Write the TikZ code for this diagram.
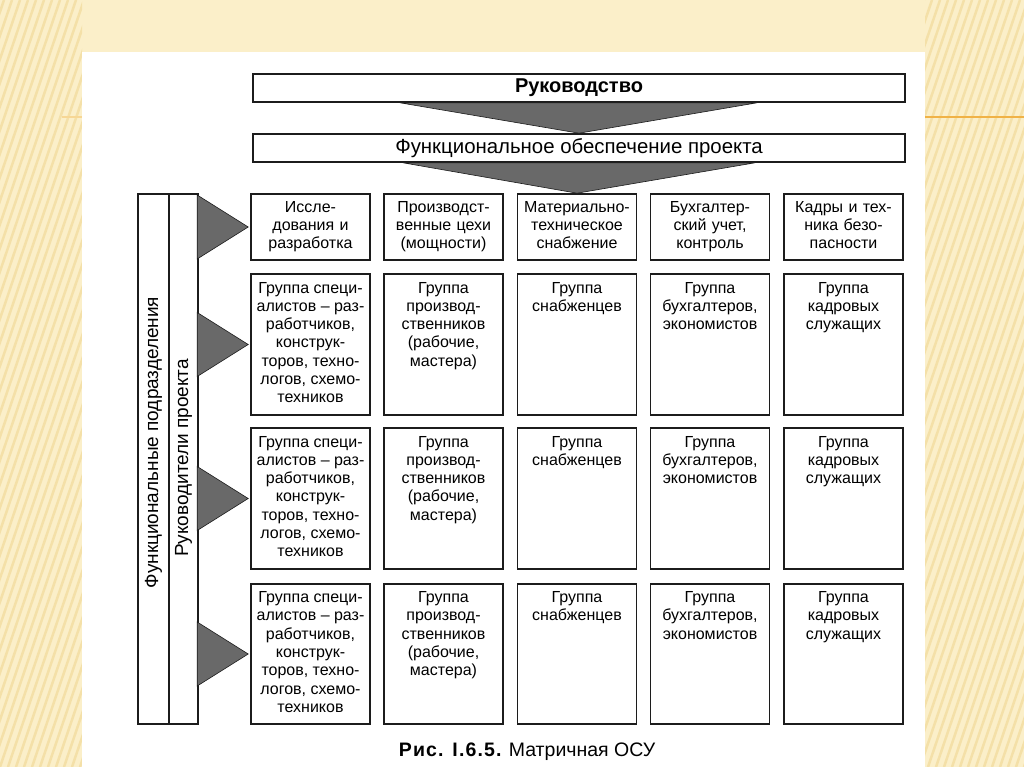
\documentclass[tikz,border=0pt]{standalone}
\usepackage{fontspec}
\setmainfont{Liberation Sans}
\usetikzlibrary{calc}
\definecolor{bgc}{RGB}{251,239,201}
\definecolor{strc}{RGB}{244,224,168}
\definecolor{orl}{RGB}{240,178,70}
\definecolor{ink}{RGB}{28,28,28}
\definecolor{trif}{RGB}{105,105,105}
\newcommand\tcell[1]{\begin{minipage}[c][137pt][t]{117pt}\centering\rule{0pt}{17pt}#1\end{minipage}}
\tikzset{
  cell/.style={draw=ink, line width=1.6pt, inner sep=0pt, minimum width=119pt,
    font=\fontsize{16}{18.3}\selectfont},
  hcell/.style={cell, minimum height=66pt, align=center, text width=117pt,
    execute at begin node=\strut, execute at end node=\strut},
  gcell/.style={cell, minimum height=141pt},
  topbox/.style={draw=ink, line width=1.6pt, minimum width=652pt, minimum height=28pt, inner sep=0pt},
  bar/.style={draw=ink, line width=1.6pt, minimum height=530pt, inner sep=0pt},
  bartext/.style={rotate=90, font=\fontsize{19}{22}\selectfont, inner sep=0pt},
  tri/.style={fill=trif, draw=ink, line width=0.6pt, line join=miter},
}
\begin{document}
\begin{tikzpicture}[x=1pt, y=-1pt]
\useasboundingbox (0,0) rectangle (1024,767);
% slide background
\fill[bgc] (0,0) rectangle (1024,767);
\begin{scope}
  \clip (0,0) rectangle (82,767) (925,0) rectangle (1024,767);
  \foreach \i in {-800,-792,...,1100}
    \draw[strc, line width=2.5pt] (\i,767) -- ++(260,-767);
\end{scope}
\draw[orl, line width=1.6pt] (925,117) -- (1024,117);
\draw[orl!40!bgc, line width=1.2pt] (62,117) -- (82,117);
\fill[white] (82,52) rectangle (925,767);

% top boxes
\node[topbox, font=\fontsize{20}{24}\selectfont\bfseries] (ruk) at (579,88) {Руководство};
\node[topbox, font=\fontsize{20.4}{24}\selectfont] (func) at (579,148) {Функциональное обеспечение проекта};

% left bars
\node[bar, minimum width=31pt] (fpod) at (153.5,459) {};
\node[bar, minimum width=29pt] (rukp) at (183.5,459) {};
\node[bartext] (fpodt) at ([yshift=16.5pt]fpod.center) {Функциональные подразделения};
\node[bartext] (rukpt) at ([yshift=1pt]rukp.center) {Руководители проекта};

% row 1
\node[hcell] (r1c1) at (310.5,227) {Иссле-\\дования и\\разработка};
\node[hcell] (r1c2) at (443.5,227) {Производст-\\венные цехи\\(мощности)};
\node[hcell] (r1c3) at (577,227) {Материально-\\техническое\\снабжение};
\node[hcell] (r1c4) at (710,227) {Бухгалтер-\\ский учет,\\контроль};
\node[hcell] (r1c5) at (843.5,227) {Кадры и тех-\\ника безо-\\пасности};

% rows 2-4
\foreach \r/\y/\h in {2/344.5/141, 3/498.5/141, 4/654/140}{
  \node[gcell, minimum height=\h pt] (r\r c1) at (310.5,\y) {\tcell{Группа специ-\\алистов – раз-\\работчиков,\\конструк-\\торов, техно-\\логов, схемо-\\техников}};
  \node[gcell, minimum height=\h pt] (r\r c2) at (443.5,\y) {\tcell{Группа\\производ-\\ственников\\(рабочие,\\мастера)}};
  \node[gcell, minimum height=\h pt] (r\r c3) at (577,\y) {\tcell{Группа\\снабженцев}};
  \node[gcell, minimum height=\h pt] (r\r c4) at (710,\y) {\tcell{Группа\\бухгалтеров,\\экономистов}};
  \node[gcell, minimum height=\h pt] (r\r c5) at (843.5,\y) {\tcell{Группа\\кадровых\\служащих}};
}

% downward triangles
\draw[tri] ([xshift=-179pt]ruk.south) -- ([xshift=178pt]ruk.south) -- (func.north) -- cycle;
\draw[tri] ([xshift=-176pt]func.south) -- ([xshift=176pt]func.south) -- (r1c3.north) -- cycle;

% side triangles
\foreach \r in {1,2,3,4}{
  \draw[tri] ($(r\r c1.west)+(-53,-32)$) -- ($(r\r c1.west)+(-2,0)$) -- ($(r\r c1.west)+(-53,32)$) -- cycle;
}

% caption
\node[anchor=base, font=\fontsize{19.5}{22}\selectfont] (cap) at (527,756)
  {{\bfseries\addfontfeature{LetterSpace=6}Рис. I.6.5.} Матричная ОСУ};
\end{tikzpicture}
\end{document}
